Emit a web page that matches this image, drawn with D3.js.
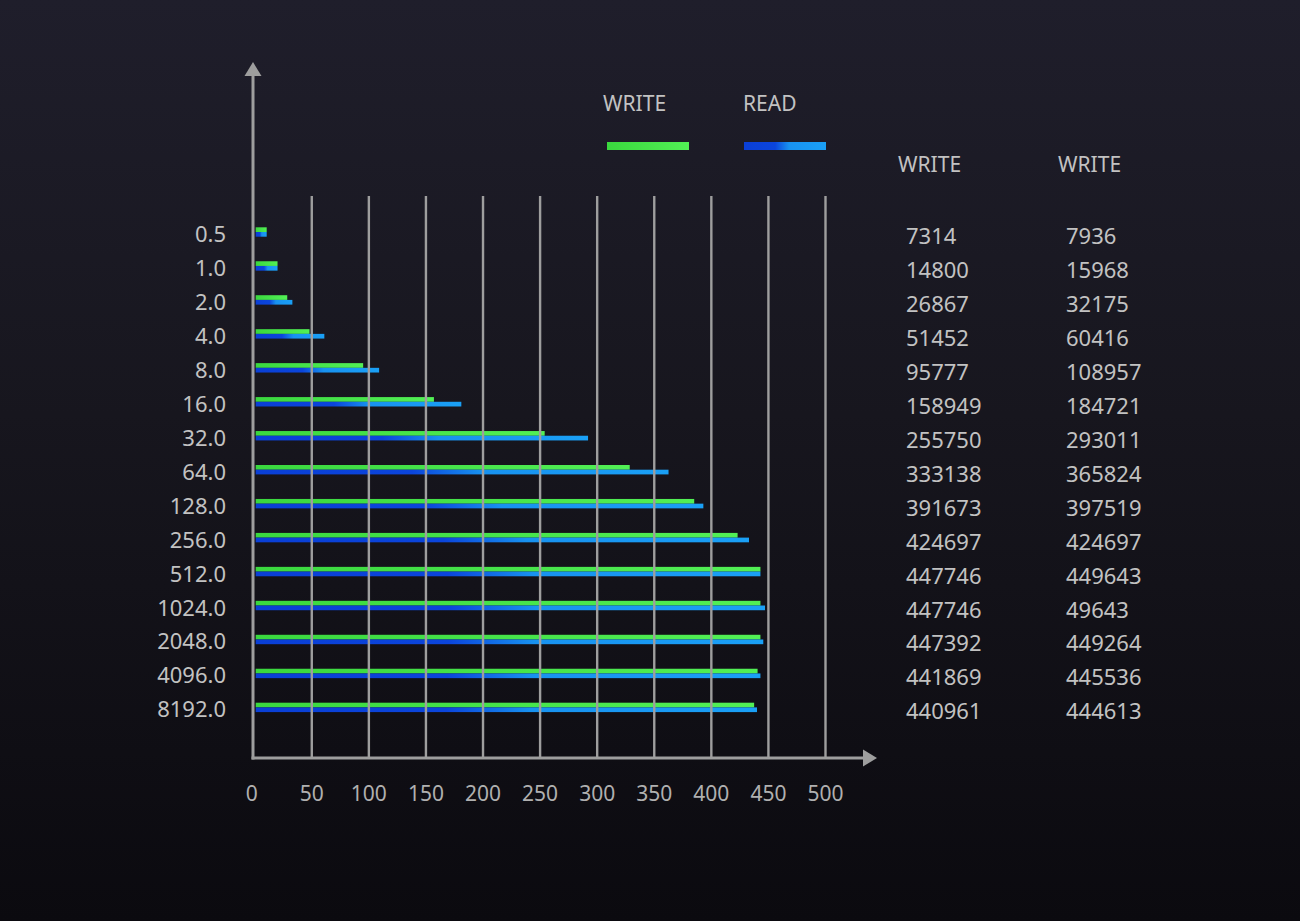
<!DOCTYPE html>
<html>
<head>
<meta charset="utf-8">
<script src="https://cdn.jsdelivr.net/npm/d3@7"></script>
<style>
  html, body { margin: 0; padding: 0; background: #111016; }
  svg { display: block; }
  text { font-family: "Noto Sans", "Open Sans", sans-serif; }
</style>
</head>
<body>
<svg id="chart" width="1300" height="921"></svg>
<script>
// block sizes (rows)
var sizes = ["0.5","1.0","2.0","4.0","8.0","16.0","32.0","64.0","128.0","256.0","512.0","1024.0","2048.0","4096.0","8192.0"];
// bar lengths
var writeBar = [10.5, 20, 28.5, 48, 95, 157, 254, 328.5, 385, 423, 443, 443, 443, 440.5, 437.5];
var readBar  = [10.5, 20, 33, 61, 109, 181, 292, 362.5, 393, 433, 443, 447, 445.5, 443, 440];
// table on the right
var writeNums = ["7314","14800","26867","51452","95777","158949","255750","333138","391673","424697","447746","447746","447392","441869","440961"];
var readNums  = ["7936","15968","32175","60416","108957","184721","293011","365824","397519","424697","449643","49643","449264","445536","444613"];
var xTicks = [0,50,100,150,200,250,300,350,400,450,500];

var svg = d3.select("#chart");
var defs = svg.append("defs");

// background
var bg = defs.append("linearGradient").attr("id","bg").attr("x1",0).attr("y1",0).attr("x2",0).attr("y2",1);
bg.append("stop").attr("offset","0%").attr("stop-color","#1f1e2b");
bg.append("stop").attr("offset","45%").attr("stop-color","#17161e");
bg.append("stop").attr("offset","100%").attr("stop-color","#0b0a0f");
svg.append("rect").attr("width",1300).attr("height",921).attr("fill","url(#bg)");

var gGreen = defs.append("linearGradient").attr("id","gGreen");
gGreen.append("stop").attr("offset","0%").attr("stop-color","#3ad83e");
gGreen.append("stop").attr("offset","100%").attr("stop-color","#52f055");
var gBlue = defs.append("linearGradient").attr("id","gBlue");
gBlue.append("stop").attr("offset","0%").attr("stop-color","#0a3fd6");
gBlue.append("stop").attr("offset","38%").attr("stop-color","#0b45dc");
gBlue.append("stop").attr("offset","55%").attr("stop-color","#1892f0");
gBlue.append("stop").attr("offset","100%").attr("stop-color","#1aa0f6");

var x = d3.scaleLinear().domain([0,500]).range([254.7, 825.5]);
var y = d3.scalePoint().domain(sizes).range([232, 707.4]);
var barH = 4.7;
var axisCol = "#9e9e9e", textCol = "#c2c2c2";

// bars
var rows = svg.append("g").selectAll("g").data(sizes).enter().append("g");
rows.append("rect")
  .attr("x", x(0) + 1)
  .attr("y", d => y(d) - barH)
  .attr("width", (d,i) => x(writeBar[i]) - x(0) - 1)
  .attr("height", barH)
  .attr("fill","url(#gGreen)");
rows.append("rect")
  .attr("x", x(0) + 1)
  .attr("y", d => y(d))
  .attr("width", (d,i) => x(readBar[i]) - x(0) - 1)
  .attr("height", barH)
  .attr("fill","url(#gBlue)");

// grid lines (on top of the bars)
svg.append("g").selectAll("line").data(xTicks.slice(1)).enter().append("line")
  .attr("x1", d => x(d)).attr("x2", d => x(d))
  .attr("y1", 196).attr("y2", 758)
  .attr("stroke", axisCol).attr("stroke-width", 2.4);

// axes with arrows
svg.append("line").attr("x1",253).attr("x2",253).attr("y1",72).attr("y2",759.5)
  .attr("stroke",axisCol).attr("stroke-width",3);
svg.append("path").attr("d","M253,62 L261.5,76 L244.5,76 Z").attr("fill",axisCol);
svg.append("line").attr("x1",251.5).attr("x2",866).attr("y1",758).attr("y2",758)
  .attr("stroke",axisCol).attr("stroke-width",3);
svg.append("path").attr("d","M877,758 L863,749.5 L863,766.5 Z").attr("fill",axisCol);

// x tick labels
svg.append("g").selectAll("text").data(xTicks).enter().append("text")
  .attr("x", d => x(d) - (d === 0 ? 3 : 0))
  .attr("y", 801)
  .attr("text-anchor","middle")
  .attr("font-size", 21)
  .attr("fill", "#b0b0b0")
  .text(d => d);

// y labels
svg.append("g").selectAll("text").data(sizes).enter().append("text")
  .attr("x", 226)
  .attr("y", d => y(d) + 10)
  .attr("text-anchor","end")
  .attr("font-size", 22)
  .attr("fill", textCol)
  .text(d => d);

// legend
var legend = [{name:"WRITE", fill:"url(#gGreen)", x:603, bx:607}, {name:"READ", fill:"url(#gBlue)", x:743, bx:744}];
var lg = svg.append("g").selectAll("g").data(legend).enter().append("g");
lg.append("text").attr("x", d => d.x).attr("y", 111)
  .attr("font-size", 21).attr("fill", textCol).text(d => d.name);
lg.append("rect").attr("x", d => d.bx).attr("y", 142).attr("width", 82).attr("height", 8)
  .attr("fill", d => d.fill);

// table
svg.append("text").attr("x",898).attr("y",172).attr("font-size",21).attr("fill",textCol).text("WRITE");
svg.append("text").attr("x",1058).attr("y",172).attr("font-size",21).attr("fill",textCol).text("WRITE");
svg.append("g").selectAll("text").data(writeNums).enter().append("text")
  .attr("x", 906).attr("y", (d,i) => y(sizes[i]) + 12)
  .attr("font-size", 22).attr("fill", textCol).text(d => d);
svg.append("g").selectAll("text").data(readNums).enter().append("text")
  .attr("x", 1066).attr("y", (d,i) => y(sizes[i]) + 12)
  .attr("font-size", 22).attr("fill", textCol).text(d => d);
</script>
</body>
</html>
